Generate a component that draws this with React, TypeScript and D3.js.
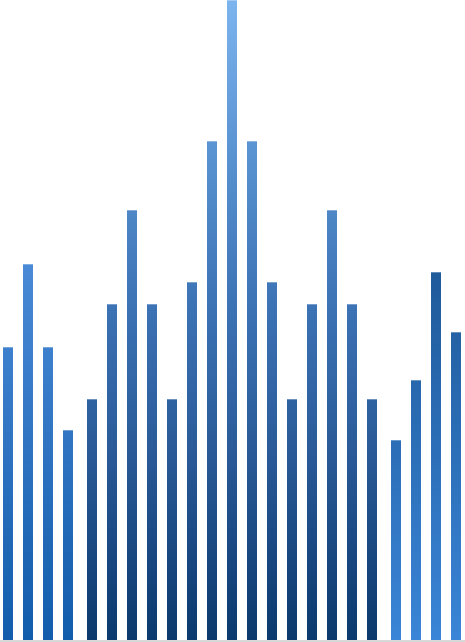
import { useRef, useEffect } from 'react';
import * as d3 from 'd3';

// bar heights, one array per colour group
const groupA = [293, 376, 293, 210];
const groupB = [241, 336, 430, 336, 241, 358, 499, 640, 499, 358, 241, 336, 430, 336, 241];
const groupC = [200, 260, 368, 308];
const groupNames = ['a', 'b', 'c'];

const width = 465;
const height = 642;

const App = () => {
  const svgRef = useRef<SVGSVGElement>(null);

  useEffect(() => {
    if (!svgRef.current) return;
    document.body.style.margin = '0';
    const svg = d3.select(svgRef.current);
    svg.selectAll('*').remove();

    const bars = [groupA, groupB, groupC].flatMap((vals, g) =>
      vals.map(v => ({ value: v, group: groupNames[g] }))
    );

    const baseY = 640;
    const x = d3.scaleBand<number>()
      .domain(bars.map((_, i) => i))
      .range([-2, 458])
      .paddingInner(0.5)
      .paddingOuter(0.25);
    const groupOffset = d3.scaleOrdinal<string, number>()
      .domain(groupNames)
      .range([0, 4, 8]);
    const y = d3.scaleLinear().domain([0, 640]).range([baseY, 0]);

    // gradients are in user space so bars of one group share the colour at a given height
    const defs = svg.append('defs');
    const stops: Record<string, [number, string][]> = {
      a: [[0, '#78b0ec'], [0.41, '#4a8ad6'], [1, '#115cab']],
      b: [[0, '#7cb4ee'], [0.23, '#5b94d2'], [0.47, '#3c74b6'], [0.7, '#2a5a98'], [1, '#0a396d']],
      c: [[0, '#0f3e76'], [0.42, '#1f5a9a'], [1, '#3a85d7']]
    };
    groupNames.forEach(name => {
      const grad = defs.append('linearGradient')
        .attr('id', `grad-${name}`)
        .attr('gradientUnits', 'userSpaceOnUse')
        .attr('x1', 0).attr('y1', 0)
        .attr('x2', 0).attr('y2', baseY);
      stops[name].forEach(([o, c]) => {
        grad.append('stop').attr('offset', o).attr('stop-color', c);
      });
    });

    const g = svg.append('g');

    g.selectAll('rect.bar')
      .data(bars)
      .enter()
      .append('rect')
      .attr('class', 'bar')
      .attr('x', (d, i) => (x(i) ?? 0) + groupOffset(d.group))
      .attr('y', d => y(d.value))
      .attr('width', x.bandwidth())
      .attr('height', d => baseY - y(d.value))
      .attr('fill', d => `url(#grad-${d.group})`);

    // thin light edge on top of each bar
    g.selectAll('rect.cap')
      .data(bars)
      .enter()
      .append('rect')
      .attr('class', 'cap')
      .attr('x', (d, i) => (x(i) ?? 0) + groupOffset(d.group))
      .attr('y', d => y(d.value))
      .attr('width', x.bandwidth())
      .attr('height', 1)
      .attr('fill', '#ffffff')
      .attr('opacity', 0.3);

    // baseline
    g.append('rect')
      .attr('x', 0)
      .attr('y', baseY)
      .attr('width', width)
      .attr('height', 2)
      .attr('fill', '#d9d9d9');
  }, []);

  return (
    <svg
      ref={svgRef}
      width={width}
      height={height}
      style={{ display: 'block', background: '#ffffff' }}
    />
  );
};

export default App;
